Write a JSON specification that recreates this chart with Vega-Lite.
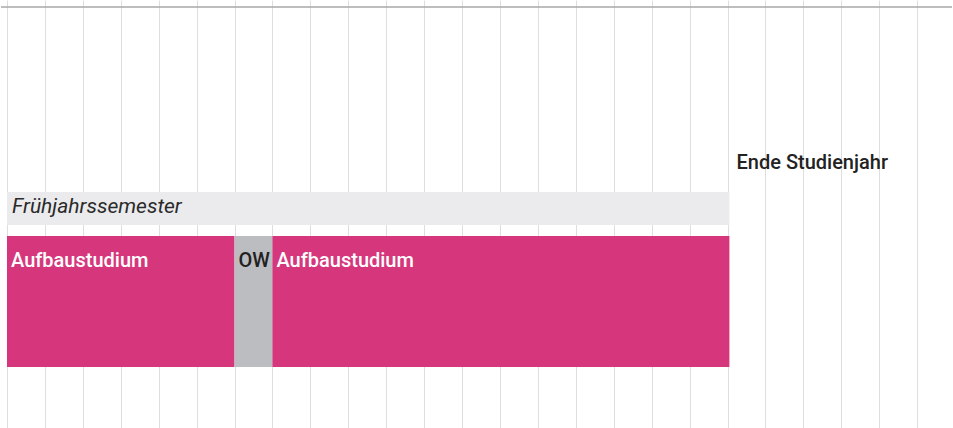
{
  "$schema": "https://vega.github.io/schema/vega-lite/v6.json",
  "width": 953,
  "height": 428,
  "autosize": {"type": "fit", "contains": "padding"},
  "padding": 0,
  "background": "#ffffff",
  "config": {
    "view": {"stroke": null},
    "axisX": {"grid": true, "gridColor": "#000000", "gridOpacity": 0.13, "gridWidth": 1, "labels": false, "ticks": false, "domain": false, "title": null, "zindex": 1, "values": [0,1,2,3,4,5,6,7,8,9,10,11,12,13,14,15,16,17,18,19,20,21,22,23,24]},
    "text": {"font": "Roboto", "fontSize": 20}
  },
  "datasets": {
    "bars": [
      {"label": "Frühjahrssemester", "kind": "Semester", "start": 0, "end": 19.05, "top": 192, "bottom": 225},
      {"label": "Aufbaustudium", "kind": "Studium", "start": 0, "end": 6, "top": 236, "bottom": 367},
      {"label": "OW", "kind": "OW", "start": 6, "end": 7, "top": 236, "bottom": 367},
      {"label": "Aufbaustudium", "kind": "Studium", "start": 7, "end": 19.05, "top": 236, "bottom": 367}
    ],
    "notes": [
      {"label": "Ende Studienjahr", "week": 19, "base": 169}
    ],
    "lines": [
      {"level": 7}
    ]
  },
  "layer": [
    {
      "data": {"name": "bars"},
      "mark": {"type": "rect"},
      "encoding": {
        "x": {"field": "start", "type": "quantitative", "scale": {"domain": [-0.158, 24.92], "nice": false, "zero": false}},
        "x2": {"field": "end"},
        "y": {"field": "top", "type": "quantitative", "scale": {"domain": [0, 428], "reverse": true, "nice": false, "zero": false}, "axis": null},
        "y2": {"field": "bottom"},
        "color": {"field": "kind", "type": "nominal", "scale": {"domain": ["Semester", "Studium", "OW"], "range": ["#ebebed", "#d6377c", "#bcbdc0"]}, "legend": null}
      }
    },
    {
      "data": {"name": "bars"},
      "transform": [{"filter": "datum.kind === 'Semester'"}],
      "mark": {"type": "text", "align": "left", "baseline": "alphabetic", "dx": 5, "dy": 21, "fontStyle": "italic", "fontSize": 21, "color": "#2a2a2a"},
      "encoding": {
        "x": {"field": "start", "type": "quantitative"},
        "y": {"field": "top", "type": "quantitative"},
        "text": {"field": "label"}
      }
    },
    {
      "data": {"name": "bars"},
      "transform": [{"filter": "datum.kind !== 'Semester'"}],
      "mark": {"type": "text", "align": "left", "baseline": "alphabetic", "dx": 4, "dy": 31, "fontWeight": 500},
      "encoding": {
        "x": {"field": "start", "type": "quantitative"},
        "y": {"field": "top", "type": "quantitative"},
        "text": {"field": "label"},
        "color": {"condition": {"test": "datum.kind === 'OW'", "value": "#222222"}, "value": "#ffffff"}
      }
    },
    {
      "data": {"name": "notes"},
      "mark": {"type": "text", "align": "left", "baseline": "alphabetic", "dx": 9, "fontWeight": 500, "color": "#222222"},
      "encoding": {
        "x": {"field": "week", "type": "quantitative"},
        "y": {"field": "base", "type": "quantitative"},
        "text": {"field": "label"}
      }
    },
    {
      "data": {"name": "lines"},
      "mark": {"type": "rule", "color": "#a8a8a8", "strokeWidth": 1.5},
      "encoding": {
        "y": {"field": "level", "type": "quantitative"}
      }
    }
  ]
}
